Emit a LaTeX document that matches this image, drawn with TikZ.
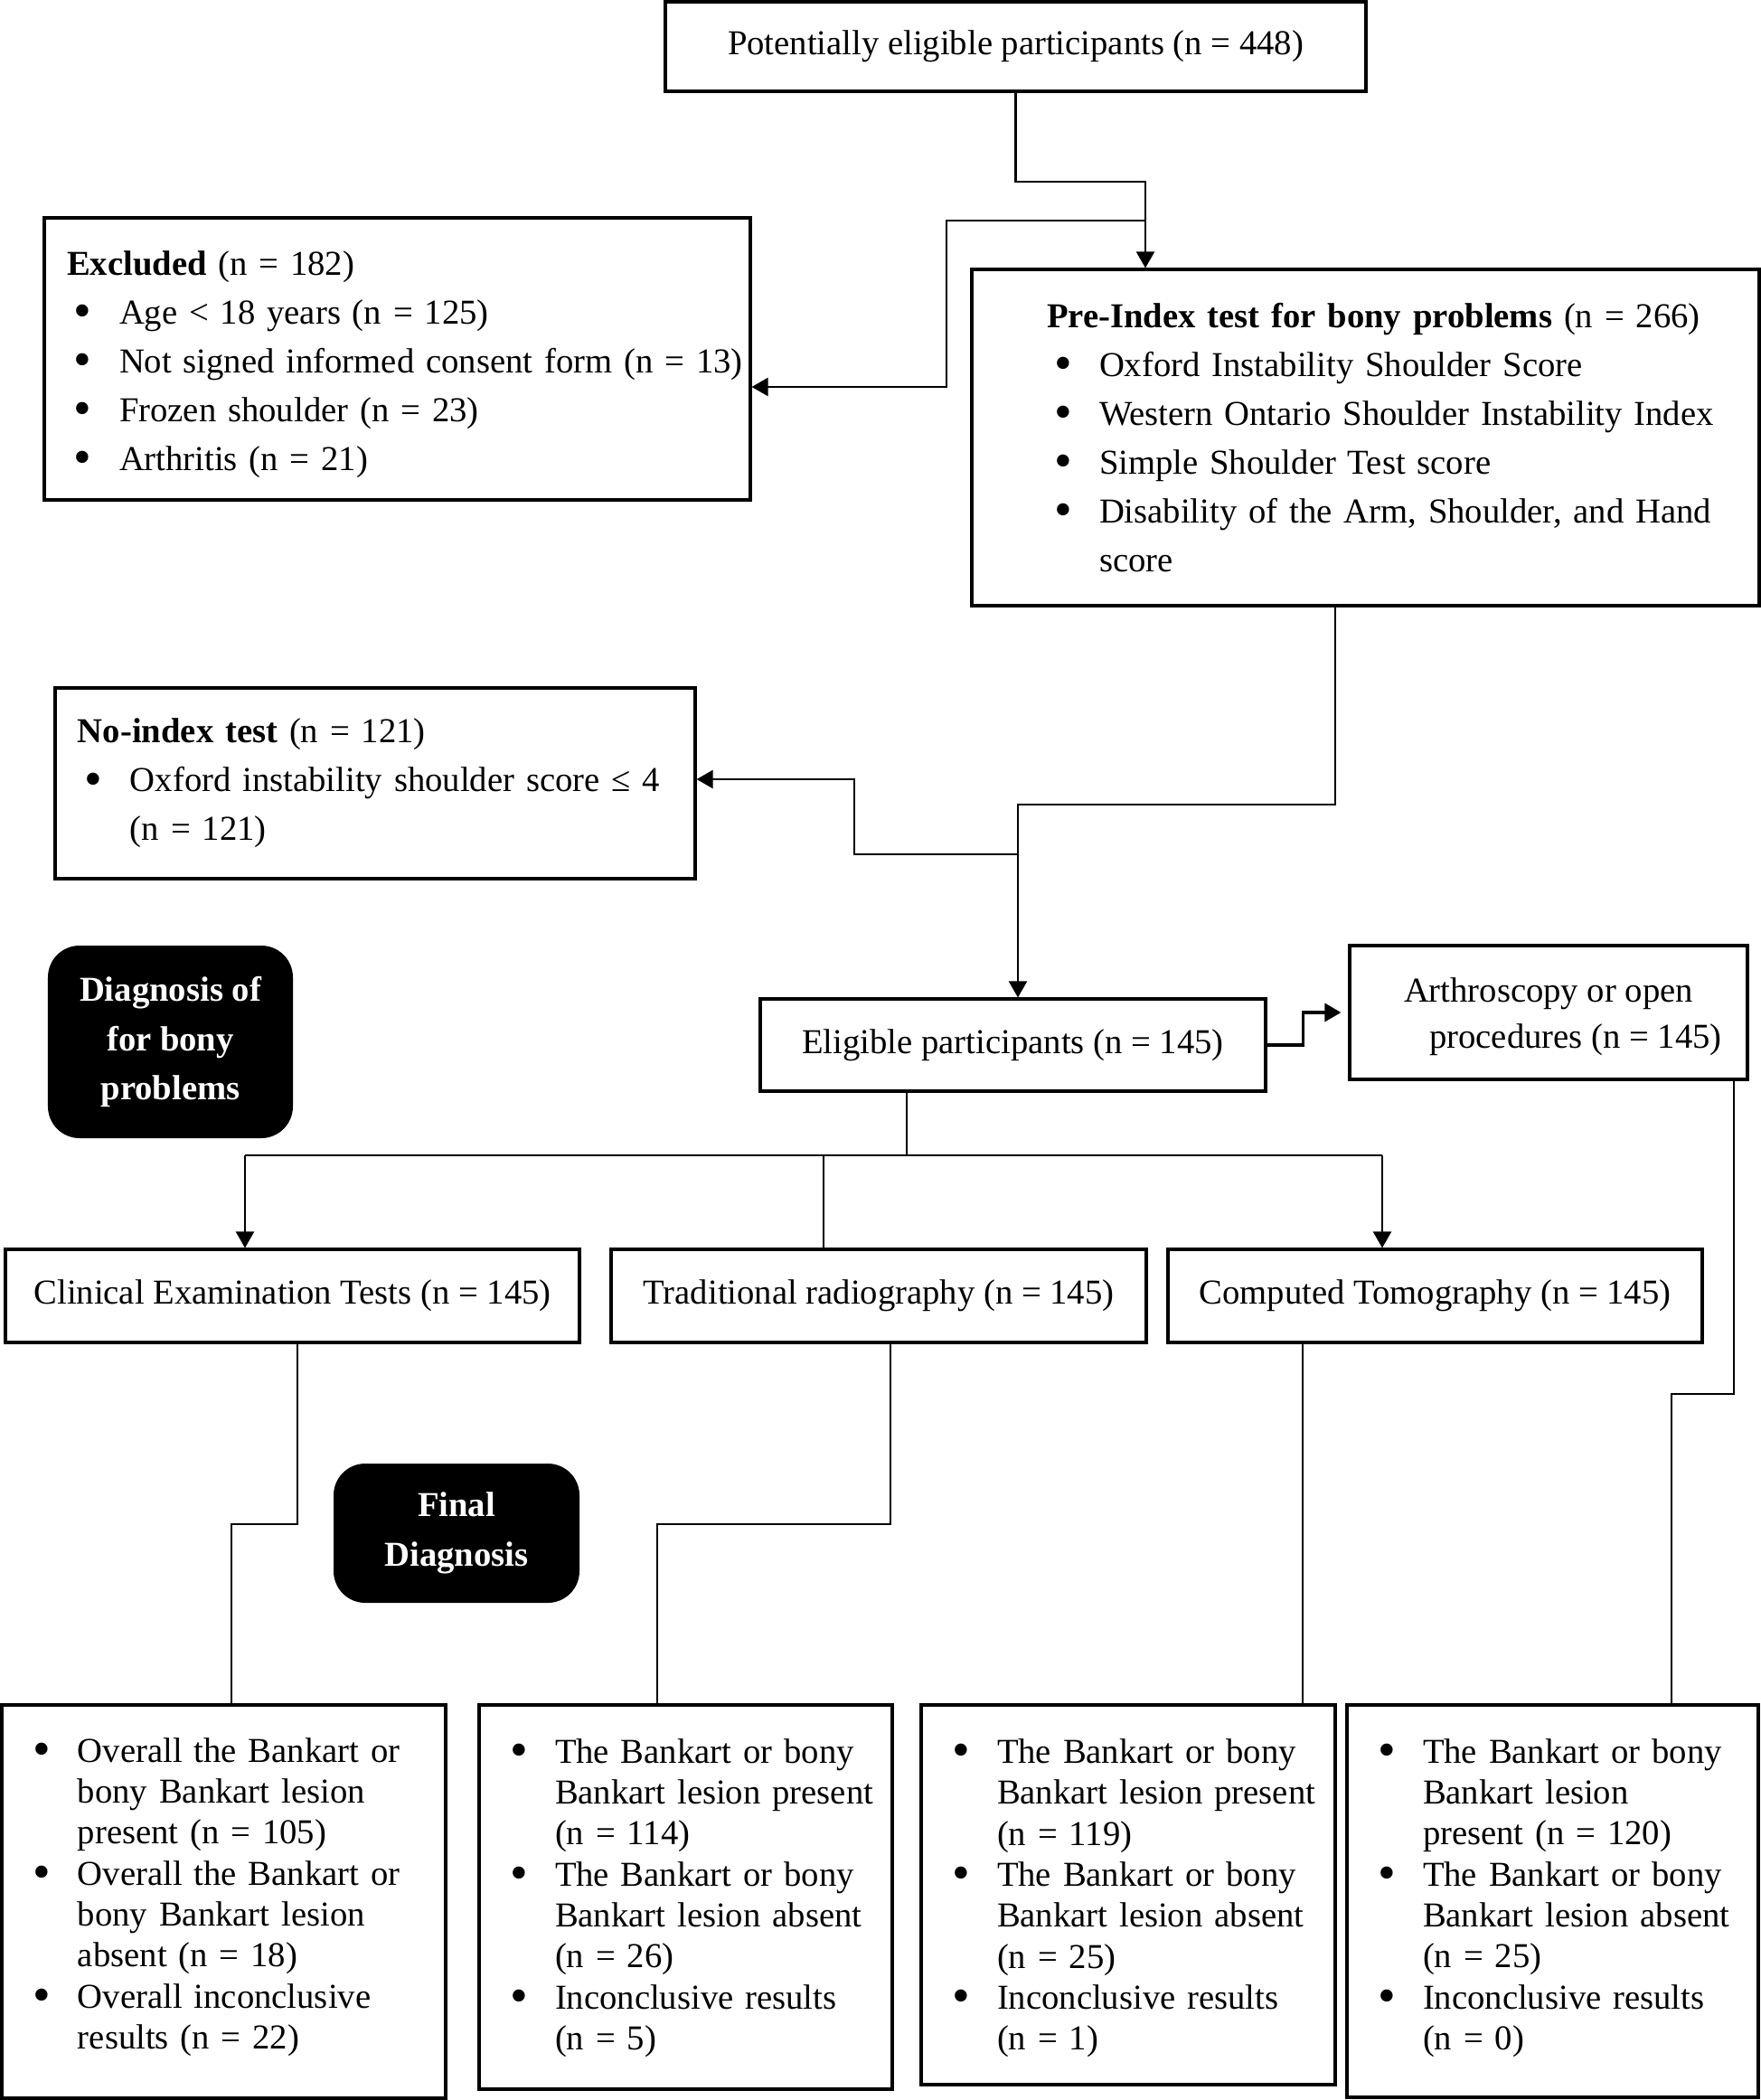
\documentclass[tikz,border=0pt]{standalone}
\usepackage{fontspec}
\setmainfont{Liberation Serif}
\usetikzlibrary{arrows.meta}

\newlength{\bulletPos}\setlength{\bulletPos}{0.08cm}
\newlength{\itemPos}\setlength{\itemPos}{0.58cm}
\newcommand{\boxStart}[1]{\leftskip=#1\rightskip=0pt plus 1fil\parfillskip=0pt\relax\ignorespaces}
\newcommand{\bitem}[1]{\par\hangindent=\itemPos\hangafter=1\noindent\makebox[\itemPos][l]{\hspace*{\bulletPos}\raisebox{-1.2pt}{\fontsize{16}{16}\selectfont\textbullet}}#1\par}

\begin{document}
\begin{tikzpicture}[
    boxLine/.style={draw, line width=0.9pt, inner sep=0pt},
    wideFont/.style={font=\fontsize{11}{15.4}\selectfont},
    tightFont/.style={font=\fontsize{11}{12.9}\selectfont},
    listBox/.style={boxLine, align=left, text width=#1, minimum width=#1},
    darkBox/.style={fill=black, rounded corners=0.35cm, text=white, align=center,
        font=\fontsize{11}{15.6}\selectfont\bfseries},
    connector/.style={line width=0.65pt},
    >={Triangle[length=1.8mm, width=2mm]},
    every node/.style={
        text centered,
        }
        ]
    \useasboundingbox (0,0) rectangle (19.48,-23.23);

    % top part
    \node[boxLine, wideFont, minimum width=7.75cm, minimum height=0.99cm] (potential) at (11.235,-0.515) {Potentially eligible participants (n = 448)};

    \node[listBox=7.81cm, wideFont, minimum height=3.12cm] (excluded) at (4.395,-3.97) {\boxStart{0.25cm}
        \rule{0pt}{0.39cm}\textbf{Excluded} (n = 182)
        \bitem{Age < 18 years (n = 125)}
        \bitem{Not signed informed consent form (n = 13)}
        \bitem{Frozen shoulder (n = 23)}
        \bitem{Arthritis (n = 21)}};

    \node[listBox=8.71cm, wideFont, minimum height=3.72cm] (preIndex) at (15.105,-4.84) {\boxStart{0.83cm}
        \textbf{Pre-Index test for bony problems} (n = 266)
        \bitem{Oxford Instability Shoulder Score}
        \bitem{Western Ontario Shoulder Instability Index}
        \bitem{Simple Shoulder Test score}
        \bitem{Disability of the Arm, Shoulder, and Hand\newline score}};

    \node[listBox=7.08cm, wideFont, minimum height=2.11cm] (noIndex) at (4.15,-8.665) {\boxStart{0.25cm}
        \textbf{No-index test} (n = 121)
        \bitem{Oxford instability shoulder score ≤ 4\newline (n = 121)}};

    % middle part
    \node[darkBox, minimum width=2.71cm, minimum height=2.13cm] (diagnosis) at (1.885,-11.525) {Diagnosis of\\for bony\\problems};

    \node[boxLine, wideFont, minimum width=5.59cm, minimum height=1.02cm] (eligible) at (11.205,-11.56) {Eligible participants (n = 145)};
    \node[boxLine, align=center, font=\fontsize{11}{14.6}\selectfont, minimum width=4.40cm, minimum height=1.48cm] (surgery) at (17.13,-11.2) {\rule{0pt}{0.36cm}Arthroscopy or open\\\hspace*{0.6cm}procedures (n = 145)};

    \node[boxLine, wideFont, minimum width=6.35cm, minimum height=1.03cm] (clinical) at (3.235,-14.335) {Clinical Examination Tests (n = 145)};
    \node[boxLine, wideFont, minimum width=5.92cm, minimum height=1.03cm] (radiography) at (9.72,-14.335) {Traditional radiography (n = 145)};
    \node[boxLine, wideFont, minimum width=5.91cm, minimum height=1.03cm] (tomography) at (15.875,-14.335) {Computed Tomography (n = 145)};

    \node[darkBox, minimum width=2.72cm, minimum height=1.54cm] (final) at (5.05,-16.96) {Final\\Diagnosis};

    % results
    \node[listBox=4.91cm, tightFont, minimum height=4.35cm] (resultA) at (2.475,-21.035) {\boxStart{0.26cm}
        \bitem{Overall the Bankart or\newline bony Bankart lesion\newline present (n = 105)}
        \bitem{Overall the Bankart or\newline bony Bankart lesion\newline absent (n = 18)}
        \bitem{Overall inconclusive\newline results (n = 22)\rule[-0.37cm]{0pt}{0pt}}};
    \node[listBox=4.57cm, tightFont, minimum height=4.25cm] (resultB) at (7.585,-20.985) {\boxStart{0.26cm}
        \bitem{The Bankart or bony\newline Bankart lesion present\newline (n = 114)}
        \bitem{The Bankart or bony\newline Bankart lesion absent\newline (n = 26)}
        \bitem{Inconclusive results\newline (n = 5)\rule[-0.25cm]{0pt}{0pt}}};
    \node[listBox=4.58cm, tightFont, minimum height=4.20cm] (resultC) at (12.48,-20.96) {\boxStart{0.26cm}
        \bitem{The Bankart or bony\newline Bankart lesion present\newline (n = 119)}
        \bitem{The Bankart or bony\newline Bankart lesion absent\newline (n = 25)}
        \bitem{Inconclusive results\newline (n = 1)\rule[-0.19cm]{0pt}{0pt}}};
    \node[listBox=4.55cm, tightFont, minimum height=4.34cm] (resultD) at (17.175,-21.03) {\boxStart{0.26cm}
        \bitem{The Bankart or bony\newline Bankart lesion\newline present (n = 120)}
        \bitem{The Bankart or bony\newline Bankart lesion absent\newline (n = 25)}
        \bitem{Inconclusive results\newline (n = 0)\rule[-0.34cm]{0pt}{0pt}}};

    % bends
    \coordinate (topBend) at (12.67,-2.01);
    \coordinate (exclSplit) at (12.67,-2.44);
    \coordinate (exclBend) at (10.47,-2.44);
    \coordinate (preDrop) at (11.26,-8.90);
    \coordinate (noSplit) at (11.26,-9.45);
    \coordinate (noBend) at (9.45,-9.45);
    \coordinate (barLeft) at (2.71,-12.78);
    \coordinate (barMid) at (9.11,-12.78);
    \coordinate (barRight) at (15.29,-12.78);
    \coordinate (surgeryBend) at (18.49,-15.42);
    \coordinate (clinBend) at (2.56,-16.86);
    \coordinate (radioBend) at (7.27,-16.86);

    \draw[connector, ->] (potential.south) |- (topBend) -- (topBend |- preIndex.north);
    \draw[connector, ->] (exclSplit) -- (exclBend) |- ([yshift=-0.31cm]excluded.east);
    \draw[connector, ->] ([xshift=-0.335cm]preIndex.south) |- (preDrop) -- (preDrop |- eligible.north);
    \draw[connector, ->] (noSplit) -- (noBend) |- ([yshift=0.045cm]noIndex.east);
    \draw[line width=0.9pt, ->, shorten >=0.08cm] (eligible.east) -- ++(0.4,0) |- (surgery.west);

    \draw[connector] ([xshift=-1.175cm]eligible.south) -- ([xshift=-1.175cm]eligible.south |- barLeft);
    \draw[connector] (barLeft) -- (barRight);
    \draw[connector, ->] (barLeft) -- (barLeft |- clinical.north);
    \draw[connector] (barMid) -- (barMid |- radiography.north);
    \draw[connector, ->] (barRight) -- (barRight |- tomography.north);

    \draw[connector] ([xshift=0.055cm]clinical.south) |- (clinBend) -- (clinBend |- resultA.north);
    \draw[connector] ([xshift=0.13cm]radiography.south) |- (radioBend) -- (radioBend |- resultB.north);
    \draw[connector] ([xshift=-1.465cm]tomography.south) -- ([xshift=-1.465cm]tomography.south |- resultC.north);
    \draw[connector] ([xshift=2.05cm]surgery.south) |- (surgeryBend) -- (surgeryBend |- resultD.north);
\end{tikzpicture}
\end{document}
